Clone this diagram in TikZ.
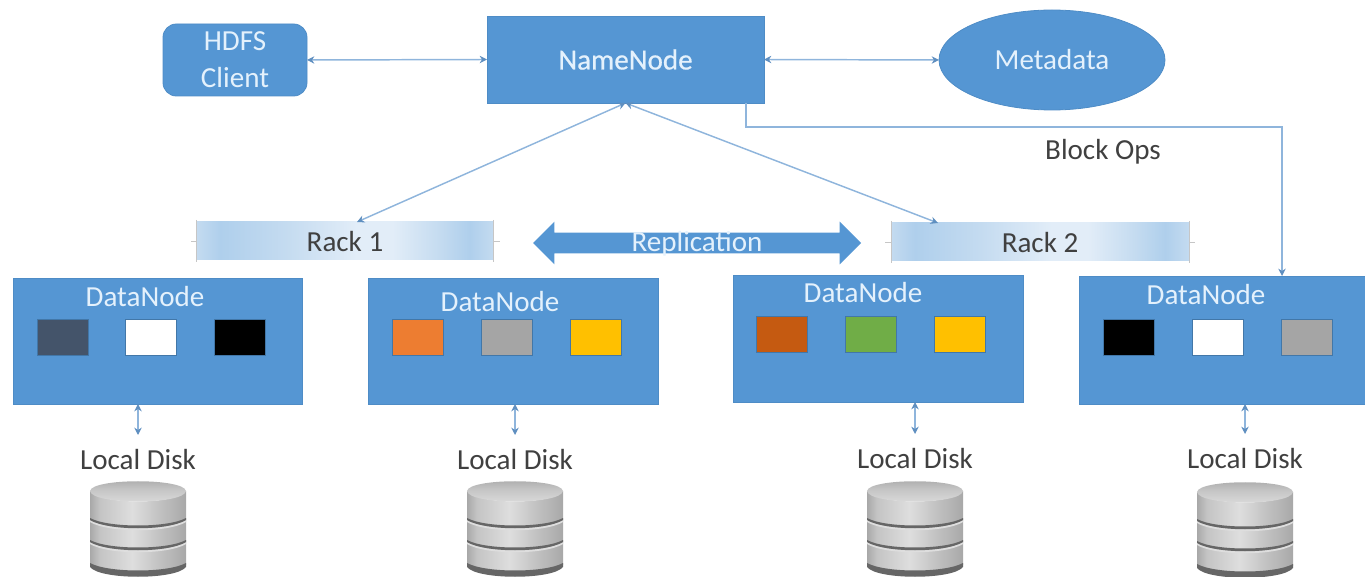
\documentclass[tikz,border=0pt]{standalone}
\usepackage{fontspec}
\setmainfont{Carlito}
\usetikzlibrary{shapes.geometric,shapes.arrows,arrows.meta}
\definecolor{boxblue}{HTML}{5596D3}
\definecolor{boxedge}{HTML}{4E8CC6}
\definecolor{linkblue}{HTML}{8FB5DC}
\definecolor{tipblue}{HTML}{5F8FC0}
\definecolor{palet}{HTML}{E4F1FC}
\definecolor{inkgrey}{HTML}{404040}
\definecolor{rackA}{HTML}{AFCFEC}
\definecolor{rackB}{HTML}{C4DBF0}
\definecolor{rackC}{HTML}{E2EDF8}
\definecolor{chipslate}{HTML}{44546A}
\definecolor{chiporange}{HTML}{ED7D31}
\definecolor{chipgrey}{HTML}{A5A5A5}
\definecolor{chipgold}{HTML}{FFC000}
\definecolor{chiprust}{HTML}{C55A11}
\definecolor{chipgreen}{HTML}{70AD47}
\definecolor{cylD}{HTML}{A8A8A8}
\definecolor{cylM}{HTML}{C4C4C4}
\definecolor{cylL}{HTML}{DEDEDE}
\definecolor{cylB}{HTML}{666666}
\pgfdeclarehorizontalshading{rackshade}{100bp}{
 color(0bp)=(rackB); color(25bp)=(rackB); color(29bp)=(rackA); color(40bp)=(rackB);
 color(52bp)=(rackC); color(58bp)=(rackC); color(66bp)=(rackB); color(71bp)=(rackA); color(75bp)=(rackB); color(100bp)=(rackB)}
\pgfdeclarehorizontalshading{cylside}{100bp}{
 color(0bp)=(cylD); color(25bp)=(cylD); color(30bp)=(cylM); color(47bp)=(cylL); color(60bp)=(cylM); color(75bp)=(cylD); color(100bp)=(cylD)}
\pgfdeclareverticalshading{cyltop}{100bp}{
 color(0bp)=(cylL); color(25bp)=(cylL); color(55bp)=(cylM); color(75bp)=(cylD); color(100bp)=(cylD)}
\newcommand{\diskstack}[2]{%
 \begin{scope}[shift={(#1,#2)}]
  \shade[shading=cylside] (-48,10) -- (-48,84) .. controls (-38,98) and (38,98) .. (48,84) -- (48,10) .. controls (38,24) and (-38,24) .. (-48,10) -- cycle;
  \shade[shading=cyltop] (-48,10) .. controls (-46,-3) and (46,-3) .. (48,10) .. controls (46,24) and (-46,24) .. (-48,10) -- cycle;
  \foreach \yy in {37,59} {
   \fill[cylL] (-48,\yy+2) .. controls (-30,\yy+13) and (30,\yy+13) .. (48,\yy+2) -- (48,\yy+4) .. controls (30,\yy+15) and (-30,\yy+15) .. (-48,\yy+4) -- cycle;
   \fill[cylB] (-48,\yy) .. controls (-30,\yy+10) and (30,\yy+10) .. (48,\yy) -- (48,\yy+2) .. controls (30,\yy+13) and (-30,\yy+13) .. (-48,\yy+2) -- cycle;
  }
  \fill[cylB] (-48,82) .. controls (-30,92) and (30,92) .. (48,82) -- (48,86) .. controls (38,99) and (-38,99) .. (-48,86) -- cycle;
 \end{scope}}
\tikzset{
 x=0.75pt,y=-0.75pt,
 every node/.style={font=\fontsize{21.8pt}{26pt}\selectfont,inner sep=0pt,outer sep=0pt},
 bluebox/.style={fill=boxblue,draw=boxedge,line width=0.6pt,text=palet},
 heavytext/.style={font=\fontsize{21.8pt}{26pt}\selectfont\addfontfeature{FakeBold=0.6}},
 datanode/.style={bluebox,minimum width=#1*0.75pt,minimum height=126*0.75pt},
 dnlabel/.style={text=palet},
 chip/.style={draw=boxedge!85!black,line width=0.6pt,minimum width=51*0.75pt,minimum height=36*0.75pt,fill=#1},
 rackbar/.style={shading=rackshade,minimum width=297*0.75pt,minimum height=38*0.75pt,text=inkgrey},
 racktick/.style={draw=gray!45,line width=0.5pt},
 disklabel/.style={text=inkgrey,minimum height=50*0.75pt},
 link/.style={draw=linkblue,line width=1.1pt,{Stealth[length=5.5pt,width=5.5pt,color=tipblue]}-{Stealth[length=5.5pt,width=5.5pt,color=tipblue]}},
 oneway/.style={draw=linkblue,line width=1.1pt,-{Stealth[length=5.5pt,width=5.5pt,color=tipblue]}}
}
\begin{document}
\begin{tikzpicture}
\useasboundingbox (0,0) rectangle (1365,577);
% top row
\node[bluebox,rounded corners=10pt,minimum width=144*0.75pt,minimum height=72*0.75pt] (client) at (235,60) {};
\node[text=palet] (clientA) at (235,41) {HDFS};
\node[text=palet] (clientB) at (235,78) {Client};
\node[bluebox,heavytext,minimum width=277*0.75pt,minimum height=87*0.75pt] (name) at (625.5,59.5) {NameNode};
\node[bluebox,ellipse,minimum width=226*0.75pt,minimum height=100*0.75pt] (meta) at (1052,60) {Metadata};
\draw[link] (client.east) -- (name.west);
\draw[link] (name.east) -- (meta.west);
% racks
\node[rackbar] (rack1) at (345,241) {};
\node[text=inkgrey] (rack1t) at (345,242) {Rack 1};
\node[rackbar,minimum width=298*0.75pt] (rack2) at (1040,242) {};
\node[text=inkgrey] (rack2t) at (1040,243) {Rack 2};
\foreach \r in {rack1,rack2} {
 \draw[racktick] (\r.north west) ++(0,-2) -- ++(0,42);
 \draw[racktick] (\r.north east) ++(0,-2) -- ++(0,42);
 \draw[racktick] (\r.west) -- ++(-6,0);
 \draw[racktick] (\r.east) -- ++(6,0);
}
\node[double arrow,fill=boxblue,inner ysep=7.5pt,minimum height=328*0.75pt,minimum width=42*0.75pt,double arrow head extend=8.25pt,double arrow tip angle=90] (repl) at (697,243) {};
\node[text=palet] (repltext) at (697,244) {Replication};
% data nodes
\node[datanode=289] (dn1) at (157.5,341) {};
\node[datanode=290] (dn2) at (513,341) {};
\node[datanode=290,minimum height=127*0.75pt] (dn3) at (878,338.5) {};
\node[datanode=286,minimum height=128*0.75pt] (dn4) at (1222,340) {};
\node[dnlabel] (dn1t) at (145,297) {DataNode};
\node[dnlabel] (dn2t) at (500,302) {DataNode};
\node[dnlabel] (dn3t) at (863,293) {DataNode};
\node[dnlabel] (dn4t) at (1206,295) {DataNode};
% chips
\node[chip=chipslate] (c11) at (62.5,337) {};
\node[chip=white] (c12) at (150.5,337) {};
\node[chip=black] (c13) at (239.5,337) {};
\node[chip=chiporange] (c21) at (417.5,337.5) {};
\node[chip=chipgrey] (c22) at (506.5,337.5) {};
\node[chip=chipgold] (c23) at (595.5,337.5) {};
\node[chip=chiprust] (c31) at (782,334.5) {};
\node[chip=chipgreen] (c32) at (870.5,334.5) {};
\node[chip=chipgold] (c33) at (959.5,334.5) {};
\node[chip=black] (c41) at (1128.5,337) {};
\node[chip=white] (c42) at (1217.5,337) {};
\node[chip=chipgrey] (c43) at (1306.5,337) {};
% connectors to racks and block ops
\draw[link] (name.south) -- (rack1.north -| 357,222);
\draw[link] (name.south) -- (rack2.north -| 938,222);
\draw[oneway] (name.south -| 746,0) |- (1282,127) -- (dn4.north -| 1282,0);
\node[text=inkgrey] (blockops) at (1103,152) {Block Ops};
% local disks
\node[disklabel] (ld1) at (138,460) {Local Disk};
\node[disklabel] (ld2) at (515,460) {Local Disk};
\node[disklabel] (ld3) at (915,459) {Local Disk};
\node[disklabel] (ld4) at (1245,459) {Local Disk};
\draw[link] (ld1.north |- dn1.south) -- (ld1.north);
\draw[link] (ld2.north |- dn2.south) -- (ld2.north);
\draw[link] (ld3.north |- dn3.south) -- (ld3.north);
\draw[link] (ld4.north |- dn4.south) -- (ld4.north);
\diskstack{138}{481}
\diskstack{515}{481}
\diskstack{915}{481}
\diskstack{1245}{482}
\end{tikzpicture}
\end{document}
